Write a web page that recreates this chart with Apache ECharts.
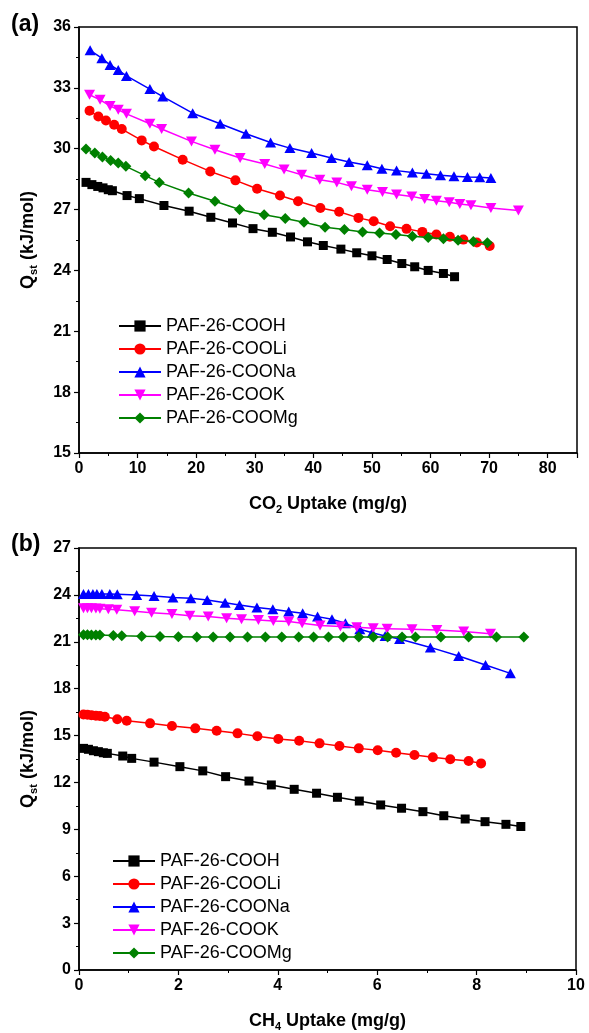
<!DOCTYPE html>
<html><head><meta charset="utf-8">
<script src="https://cdn.jsdelivr.net/npm/echarts@6/dist/echarts.min.js"></script>
<style>html,body{margin:0;padding:0;background:#fff}#c{width:589px;height:1033px}</style>
</head><body><div id="c"></div>
<script>
var seriesNames = ['PAF-26-COOH','PAF-26-COOLi','PAF-26-COONa','PAF-26-COOK','PAF-26-COOMg'];

// (a) CO2
var co2_COOH_x = [1.2,2.2,3.2,4.1,5.0,5.7,8.2,10.3,14.5,18.8,22.5,26.2,29.7,33.0,36.1,39.0,41.7,44.7,47.4,50.0,52.6,55.1,57.3,59.6,62.2,64.1];
var co2_COOH_y = [28.34,28.23,28.14,28.07,27.98,27.93,27.69,27.54,27.20,26.92,26.62,26.34,26.06,25.88,25.65,25.41,25.23,25.05,24.87,24.72,24.54,24.34,24.18,24.00,23.85,23.69];
var co2_COOLi_x = [1.8,3.3,4.6,6.0,7.3,10.7,12.8,17.7,22.4,26.7,30.4,34.3,37.4,41.2,44.4,47.7,50.3,53.1,55.9,58.6,61.0,63.3,65.6,67.9,70.1];
var co2_COOLi_y = [31.87,31.59,31.39,31.18,30.97,30.41,30.11,29.46,28.88,28.44,28.03,27.69,27.41,27.08,26.89,26.59,26.42,26.18,26.05,25.90,25.77,25.66,25.52,25.38,25.20];
var co2_COONa_x = [1.9,3.9,5.3,6.7,8.1,12.1,14.3,19.4,24.1,28.5,32.7,36.0,39.7,43.1,46.1,49.2,51.7,54.2,56.9,59.3,61.7,64.0,66.3,68.4,70.3];
var co2_COONa_y = [34.85,34.46,34.13,33.88,33.59,32.94,32.57,31.75,31.23,30.74,30.31,30.03,29.79,29.54,29.34,29.18,29.01,28.92,28.83,28.77,28.69,28.64,28.60,28.59,28.56];
var co2_COOK_x = [1.8,3.6,5.3,6.7,8.1,12.1,14.1,19.2,23.2,27.5,31.7,35.0,38.0,41.1,44.0,46.5,49.2,51.8,54.2,56.8,59.0,61.0,63.2,65.0,66.9,70.3,75.0];
var co2_COOK_y = [32.66,32.41,32.11,31.92,31.72,31.23,30.97,30.36,29.95,29.54,29.25,28.97,28.72,28.47,28.34,28.15,27.98,27.87,27.74,27.65,27.52,27.44,27.36,27.28,27.21,27.08,26.96];
var co2_COOMg_x = [1.2,2.7,4.0,5.4,6.7,8.0,11.3,13.7,18.7,23.2,27.4,31.6,35.2,38.4,42.0,45.3,48.4,51.3,54.1,56.9,59.6,62.2,64.7,67.3,69.7];
var co2_COOMg_y = [29.98,29.79,29.59,29.42,29.30,29.13,28.67,28.34,27.82,27.41,27.00,26.75,26.56,26.37,26.13,26.02,25.90,25.84,25.77,25.69,25.62,25.56,25.49,25.42,25.36];

// (b) CH4
var ch4_COOH_x = [0.09,0.19,0.29,0.39,0.49,0.57,0.88,1.06,1.51,2.03,2.49,2.95,3.42,3.87,4.33,4.78,5.20,5.64,6.07,6.49,6.92,7.34,7.77,8.17,8.59,8.89];
var ch4_COOH_y = [14.18,14.12,14.03,13.97,13.90,13.86,13.69,13.54,13.30,13.01,12.74,12.37,12.09,11.84,11.56,11.31,11.05,10.81,10.56,10.35,10.13,9.87,9.66,9.49,9.32,9.18];
var ch4_COOLi_x = [0.09,0.17,0.25,0.34,0.42,0.52,0.77,0.96,1.43,1.87,2.34,2.77,3.19,3.59,4.01,4.43,4.84,5.24,5.63,6.01,6.38,6.75,7.12,7.47,7.84,8.09];
var ch4_COOLi_y = [16.35,16.33,16.30,16.27,16.25,16.20,16.04,15.95,15.78,15.61,15.46,15.31,15.14,14.95,14.78,14.67,14.50,14.33,14.18,14.06,13.90,13.76,13.61,13.48,13.37,13.22];
var ch4_COONa_x = [0.09,0.19,0.28,0.36,0.46,0.62,0.77,1.16,1.51,1.89,2.25,2.58,2.94,3.23,3.58,3.90,4.22,4.50,4.80,5.09,5.36,5.65,5.90,6.16,6.45,7.07,7.64,8.18,8.68];
var ch4_COONa_y = [24.06,24.06,24.06,24.06,24.06,24.05,24.04,23.99,23.93,23.84,23.78,23.67,23.50,23.35,23.20,23.08,22.93,22.82,22.61,22.44,22.18,21.80,21.58,21.37,21.18,20.64,20.09,19.51,18.98];
var ch4_COOK_x = [0.09,0.17,0.25,0.34,0.42,0.59,0.76,1.12,1.46,1.87,2.23,2.60,2.97,3.27,3.61,3.91,4.22,4.49,4.85,5.26,5.59,5.92,6.20,6.70,7.20,7.74,8.28];
var ch4_COOK_y = [23.15,23.15,23.14,23.13,23.12,23.08,23.05,22.95,22.85,22.78,22.67,22.61,22.50,22.44,22.39,22.33,22.29,22.18,22.04,21.97,21.93,21.86,21.84,21.80,21.75,21.65,21.52];
var ch4_COOMg_x = [0.09,0.17,0.25,0.34,0.42,0.69,0.86,1.26,1.63,2.00,2.37,2.70,3.04,3.39,3.75,4.08,4.42,4.72,5.02,5.32,5.63,5.92,6.21,6.50,6.77,7.28,7.84,8.40,8.95];
var ch4_COOMg_y = [21.45,21.45,21.44,21.44,21.43,21.40,21.38,21.35,21.33,21.32,21.31,21.30,21.30,21.30,21.30,21.30,21.30,21.30,21.30,21.30,21.30,21.30,21.30,21.30,21.30,21.30,21.30,21.30,21.30];

// tick labels / axes
var co2Axis = {min:0, max:85, interval:10};
var co2QAxis = {min:15, max:36, interval:3};
var ch4Axis = {min:0, max:10, interval:2};
var ch4QAxis = {min:0, max:27, interval:3};

var colors = ['#000000','#ff0000','#0000ff','#ff00ff','#008000'];
var symbols = ['rect','circle','triangle','path://M0,0 L10,0 L5,8.7 Z','diamond'];
var symSizes = [9,10,[11,10],[11,10],[11,11]];

function zip(xs, ys){ return xs.map(function(x,i){return [x, ys[i]];}); }
var co2Data = [zip(co2_COOH_x,co2_COOH_y), zip(co2_COOLi_x,co2_COOLi_y), zip(co2_COONa_x,co2_COONa_y), zip(co2_COOK_x,co2_COOK_y), zip(co2_COOMg_x,co2_COOMg_y)];
var ch4Data = [zip(ch4_COOH_x,ch4_COOH_y), zip(ch4_COOLi_x,ch4_COOLi_y), zip(ch4_COONa_x,ch4_COONa_y), zip(ch4_COOK_x,ch4_COOK_y), zip(ch4_COOMg_x,ch4_COOMg_y)];

var FONT = 'Liberation Sans, Arial, sans-serif';
var nameRich = {
  b: {fontSize:18, fontWeight:'bold', fontFamily:FONT, color:'#000', lineHeight:22, verticalAlign:'middle'},
  s: {fontSize:11, fontWeight:'bold', fontFamily:FONT, color:'#000', lineHeight:22, verticalAlign:'bottom'}
};

function xAx(gi, cfg, name){
  return {type:'value', gridIndex:gi, min:cfg.min, max:cfg.max, interval:cfg.interval,
    name:name, nameLocation:'middle', nameGap:40, nameTextStyle:{rich:nameRich},
    axisLine:{show:true, onZero:false, lineStyle:{color:'#000', width:1.5}},
    axisTick:{show:true, inside:false, length:5, lineStyle:{color:'#000', width:1.2}},
    minorTick:{show:true, splitNumber:2, length:3, lineStyle:{color:'#000', width:1}},
    axisLabel:{color:'#000', fontSize:16, fontWeight:'bold', fontFamily:FONT, margin:8, showMaxLabel: cfg.max % cfg.interval === 0},
    splitLine:{show:false}};
}
function yAx(gi, cfg){
  return {type:'value', gridIndex:gi, min:cfg.min, max:cfg.max, interval:cfg.interval,
    name:'{b|Q}{s|st}{b| (kJ/mol)}', nameLocation:'middle', nameGap:40, nameRotate:90, nameTextStyle:{rich:nameRich},
    axisLine:{show:true, onZero:false, lineStyle:{color:'#000', width:1.5}},
    axisTick:{show:true, inside:false, length:5, lineStyle:{color:'#000', width:1.2}},
    minorTick:{show:true, splitNumber:2, length:3, lineStyle:{color:'#000', width:1}},
    axisLabel:{color:'#000', fontSize:16, fontWeight:'bold', fontFamily:FONT, margin:8},
    splitLine:{show:false}};
}

var series = [];
[co2Data, ch4Data].forEach(function(set, gi){
  set.forEach(function(d, i){
    series.push({name:seriesNames[i], type:'line', xAxisIndex:gi, yAxisIndex:gi, data:d,
      symbol:symbols[i], symbolSize:symSizes[i], showAllSymbol:true,
      lineStyle:{color:colors[i], width:1.5}, itemStyle:{color:colors[i]},
      emphasis:{disabled:true}, animation:false, z:2+i});
  });
});

function legend(top, left){
  return {data:seriesNames, orient:'vertical', left:left, top:top, itemWidth:42, itemHeight:14, itemGap:5,
    textStyle:{fontSize:18, lineHeight:18, color:'#000', fontFamily:FONT}, selectedMode:false, padding:0};
}

var chart = echarts.init(document.getElementById('c'), null, {renderer:'canvas'});
chart.setOption({
  animation:false,
  backgroundColor:'#fff',
  grid:[
    {left:79, top:27, width:498, height:426, show:true, borderColor:'#000', borderWidth:1.5, backgroundColor:'transparent'},
    {left:79, top:548, width:497, height:422, show:true, borderColor:'#000', borderWidth:1.5, backgroundColor:'transparent'}
  ],
  xAxis:[xAx(0, co2Axis, '{b|CO}{s|2}{b| Uptake (mg/g)}'), xAx(1, ch4Axis, '{b|CH}{s|4}{b| Uptake (mg/g)}')],
  yAxis:[yAx(0, co2QAxis), yAx(1, ch4QAxis)],
  legend:[legend(317, 118), legend(852, 112)],
  graphic:[
    {type:'text', left:11, top:13, style:{text:'(a)', font:'bold 23px '+FONT, fill:'#000'}},
    {type:'text', left:11, top:533, style:{text:'(b)', font:'bold 23px '+FONT, fill:'#000'}}
  ],
  series:series
});
</script></body></html>
